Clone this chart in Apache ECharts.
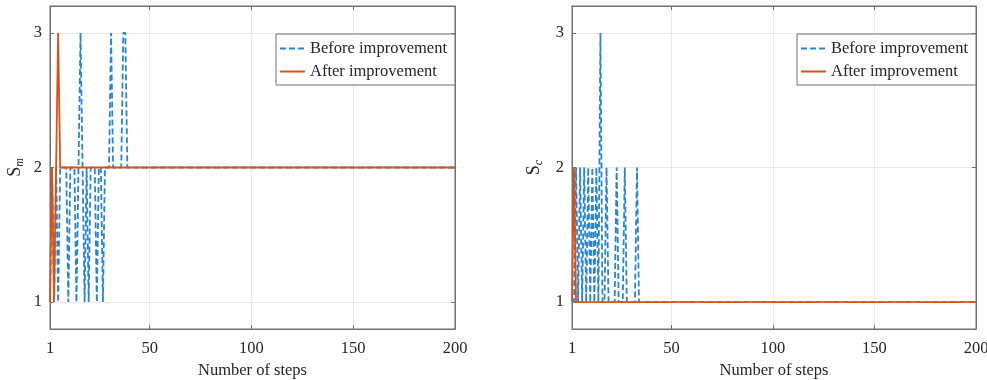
<!DOCTYPE html>
<html>
<head>
<meta charset="utf-8">
<script src="https://cdn.jsdelivr.net/npm/echarts@6/dist/echarts.min.js"></script>
<style>
  html, body { margin: 0; padding: 0; background: #fff; }
  #chart { width: 987px; height: 380px; }
</style>
</head>
<body>
<div id="chart"></div>
<script>
// steps shown on x axis
const firstStep = 1;
const lastStep = 200;
const xTicks = [1, 50, 100, 150, 200];
const yTicks = [1, 2, 3];

// S_m (left panel), values for steps 1, 2, 3 ... then flat till lastStep
const smBefore = [1, 2, 1, 2, 1, 2, 2, 2, 2, 1, 2, 2, 2, 1, 2, 3, 2, 1, 2, 1,
                  2, 2, 2, 1, 2, 2, 1, 2, 2, 2, 3, 2, 2, 2, 2, 2, 3, 3, 2, 2];
const smAfter = [1, 2, 1, 2, 3, 2];
const smSteady = 2;

// S_c (right panel)
const scBefore = [1, 1, 2, 1, 2, 1, 2, 1, 2, 1, 2, 1, 2, 1, 3, 1, 1, 2, 1, 1,
                  1, 1, 2, 1, 1, 1, 2, 1, 1, 1, 1, 1, 2, 1];
const scAfter = [1, 2, 1];
const scSteady = 1;

const legendNames = ['Before improvement', 'After improvement'];

const blue = '#2a85d0';
const red = '#d95319';
const axisGray = '#707070';
const textColor = '#262626';
const font = 'Liberation Serif';
const fontSize = 16.5;

function toPoints(vals, steady) {
  let pts = [];
  for (let i = 0; i < vals.length; i++) {
    pts.push([firstStep + i, vals[i]]);
  }
  pts.push([lastStep, steady]);
  return pts;
}

function xAxisFor(gridIndex, top) {
  return {
    type: 'value',
    gridIndex: gridIndex,
    position: top ? 'top' : 'bottom',
    min: firstStep,
    max: lastStep,
    name: top ? '' : 'Number of steps',
    nameLocation: 'middle',
    nameGap: 31,
    nameTextStyle: { fontFamily: font, fontSize: fontSize, color: textColor },
    axisLine: { show: true, onZero: false, lineStyle: { color: axisGray, width: 1 } },
    axisTick: { show: true, inside: true, length: 4, customValues: xTicks, lineStyle: { color: axisGray } },
    axisLabel: { show: !top, customValues: xTicks, margin: 11, fontFamily: font, fontSize: fontSize, color: textColor },
    splitLine: { show: !top, lineStyle: { color: '#e8e8e8', width: 1 } }
  };
}

function yAxisFor(gridIndex, right, sub) {
  return {
    type: 'value',
    gridIndex: gridIndex,
    position: right ? 'right' : 'left',
    min: 0.8,
    max: 3.2,
    name: right ? '' : '{s|S}{sub|' + sub + '}',
    nameLocation: 'middle',
    nameRotate: 90,
    nameGap: gridIndex === 0 ? 24 : 27,
    nameTextStyle: {
      rich: {
        s: { fontFamily: font, fontSize: 18, color: textColor },
        sub: { fontFamily: font, fontSize: 12, fontStyle: 'italic', color: textColor, padding: [9, 0, 0, 0] }
      }
    },
    axisLine: { show: true, onZero: false, lineStyle: { color: axisGray, width: 1 } },
    axisTick: { show: true, inside: true, length: 4, customValues: yTicks, lineStyle: { color: axisGray } },
    axisLabel: { show: !right, customValues: yTicks, margin: 8, fontFamily: font, fontSize: fontSize, color: textColor },
    splitLine: { show: !right, lineStyle: { color: '#e8e8e8', width: 1 } }
  };
}

function legendFor(rightPx) {
  return {
    data: legendNames,
    orient: 'vertical',
    right: rightPx,
    top: 34,
    itemWidth: 25,
    itemHeight: 14,
    itemGap: 6,
    padding: [6, 8, 5, 3],
    backgroundColor: '#fff',
    borderColor: axisGray,
    borderWidth: 1,
    borderRadius: 0,
    // hide the marker dot, keep only the line sample
    itemStyle: { opacity: 0, borderWidth: 0 },
    textStyle: { fontFamily: font, fontSize: fontSize, color: textColor }
  };
}

function lineSeries(name, idx, pts, color, dashed) {
  return {
    name: name,
    type: 'line',
    xAxisIndex: idx,
    yAxisIndex: idx,
    data: pts,
    symbol: 'none',
    animation: false,
    z: dashed ? 2 : 3,
    lineStyle: { color: color, width: 1.8, type: dashed ? [6, 3] : 'solid' },
    itemStyle: { color: color }
  };
}

let myChart = echarts.init(document.getElementById('chart'));
let option = {
  backgroundColor: '#fff',
  animation: false,
  grid: [
    { left: 50, top: 6, width: 405, height: 323, outerBoundsMode: 'none', show: true, borderColor: axisGray, borderWidth: 1 },
    { left: 572, top: 6, width: 404, height: 323, outerBoundsMode: 'none', show: true, borderColor: axisGray, borderWidth: 1 }
  ],
  legend: [legendFor(532), legendFor(11)],
  xAxis: [xAxisFor(0, false), xAxisFor(1, false), xAxisFor(0, true), xAxisFor(1, true)],
  yAxis: [yAxisFor(0, false, 'm'), yAxisFor(1, false, 'c'), yAxisFor(0, true), yAxisFor(1, true)],
  series: [
    lineSeries(legendNames[0], 0, toPoints(smBefore, smSteady), blue, true),
    lineSeries(legendNames[1], 0, toPoints(smAfter, smSteady), red, false),
    lineSeries(legendNames[0], 1, toPoints(scBefore, scSteady), blue, true),
    lineSeries(legendNames[1], 1, toPoints(scAfter, scSteady), red, false)
  ]
};
myChart.setOption(option);
</script>
</body>
</html>
